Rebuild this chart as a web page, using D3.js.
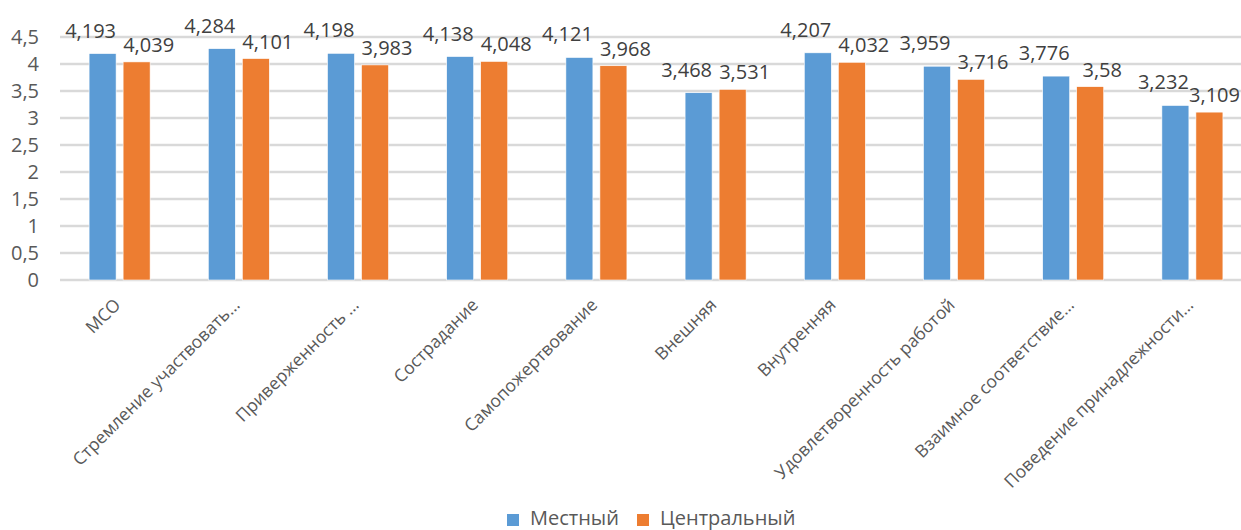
<!DOCTYPE html>
<html>
<head>
<meta charset="utf-8">
<script src="https://cdn.jsdelivr.net/npm/d3@7"></script>
<style>
  body { margin: 0; background: #fff; }
  text { font-family: "Open Sans", "Noto Sans", sans-serif; fill: #595959; }
</style>
</head>
<body>
<svg id="chart"></svg>
<script>
// chart data
var categories = ['МСО', 'Стремление участвовать…', 'Приверженность …', 'Сострадание',
  'Самопожертвование', 'Внешняя', 'Внутренняя', 'Удовлетворенность работой',
  'Взаимное соответствие…', 'Поведение принадлежности…'];
var seriesNames = ['Местный', 'Центральный'];
var mestny = [4.193, 4.284, 4.198, 4.138, 4.121, 3.468, 4.207, 3.959, 3.776, 3.232];
var centralny = [4.039, 4.101, 3.983, 4.048, 3.968, 3.531, 4.032, 3.716, 3.58, 3.109];
var yTicks = [0, 0.5, 1, 1.5, 2, 2.5, 3, 3.5, 4, 4.5];

var colors = ['#5b9bd5', '#ed7d31'];

var width = 1241, height = 530;
var margin = { top: 37, left: 60, bottom: 250 };
var plotRight = 1252;
var y0 = height - margin.bottom; // baseline of the plot

var rows = categories.map(function(c, i) {
  return { cat: c, values: [mestny[i], centralny[i]] };
});

var svg = d3.select('#chart')
  .attr('width', width)
  .attr('height', height);

var x0 = d3.scaleBand()
  .domain(categories)
  .range([margin.left, plotRight])
  .paddingInner(0.488)
  .paddingOuter(0.244);

var x1 = d3.scaleBand()
  .domain([0, 1])
  .range([0, x0.bandwidth()])
  .paddingInner(0.206);

var y = d3.scaleLinear()
  .domain([0, 4.5])
  .range([y0, margin.top]);

// gridlines
svg.append('g')
  .selectAll('line')
  .data(yTicks)
  .enter()
  .append('line')
    .attr('x1', margin.left)
    .attr('x2', width)
    .attr('y1', d => y(d))
    .attr('y2', d => y(d))
    .style('stroke', '#d9d9d9')
    .style('stroke-width', 2.5);

// y axis labels
var fmt = d => String(d).replace('.', ',');
var yAxis = d3.axisLeft(y).tickValues(yTicks).tickFormat(fmt).tickSize(0).tickPadding(0);
var yg = svg.append('g')
  .attr('transform', 'translate(39,0)')
  .call(yAxis);
yg.select('.domain').remove();
yg.selectAll('text')
  .style('font-size', '20px')
  .style('font-family', '"Open Sans", sans-serif')
  .attr('fill', '#595959');

// bars
var groups = svg.append('g')
  .selectAll('g')
  .data(rows)
  .enter()
  .append('g')
    .attr('transform', d => 'translate(' + x0(d.cat) + ',0)');

groups.selectAll('rect')
  .data(d => d.values)
  .enter()
  .append('rect')
    .attr('x', (d, i) => x1(i))
    .attr('y', d => y(d))
    .attr('width', x1.bandwidth())
    .attr('height', d => y0 - y(d))
    .style('fill', (d, i) => colors[i])
    .style('stroke', '#fff')
    .style('stroke-width', 0.6);

// value labels (blue pushed a bit higher/left, orange right)
groups.selectAll('text')
  .data(d => d.values)
  .enter()
  .append('text')
    .attr('x', (d, i) => x1(i) + x1.bandwidth() / 2 + (i === 0 ? -12 : 12))
    .attr('y', (d, i) => y(d) - (i === 0 ? 16 : 10))
    .attr('text-anchor', 'middle')
    .style('font-size', '20px')
    .style('fill', '#404040')
    .text(d => fmt(d))
    .each(function() {
      // keep labels inside the window
      var b = this.getBoundingClientRect();
      if (b.right > width - 1) {
        d3.select(this).attr('x', +d3.select(this).attr('x') - (b.right - width + 1));
      }
    });

// category labels
svg.append('g')
  .selectAll('text')
  .data(categories)
  .enter()
  .append('text')
    .attr('transform', d => 'translate(' + (x0(d) + x0.bandwidth() / 2 + 2) + ',' + (y0 + 26) + ') rotate(-45)')
    .attr('text-anchor', 'end')
    .style('font-size', '17.5px')
    .text(d => d);

// legend
var legend = svg.append('g').attr('transform', 'translate(507,514)');
var legendX = [0, 130];
seriesNames.forEach(function(name, i) {
  legend.append('rect')
    .attr('x', legendX[i])
    .attr('y', 0)
    .attr('width', 12)
    .attr('height', 12)
    .style('fill', colors[i]);
  legend.append('text')
    .attr('x', legendX[i] + 23)
    .attr('y', 11)
    .style('font-size', '20px')
    .text(name);
});
</script>
</body>
</html>
